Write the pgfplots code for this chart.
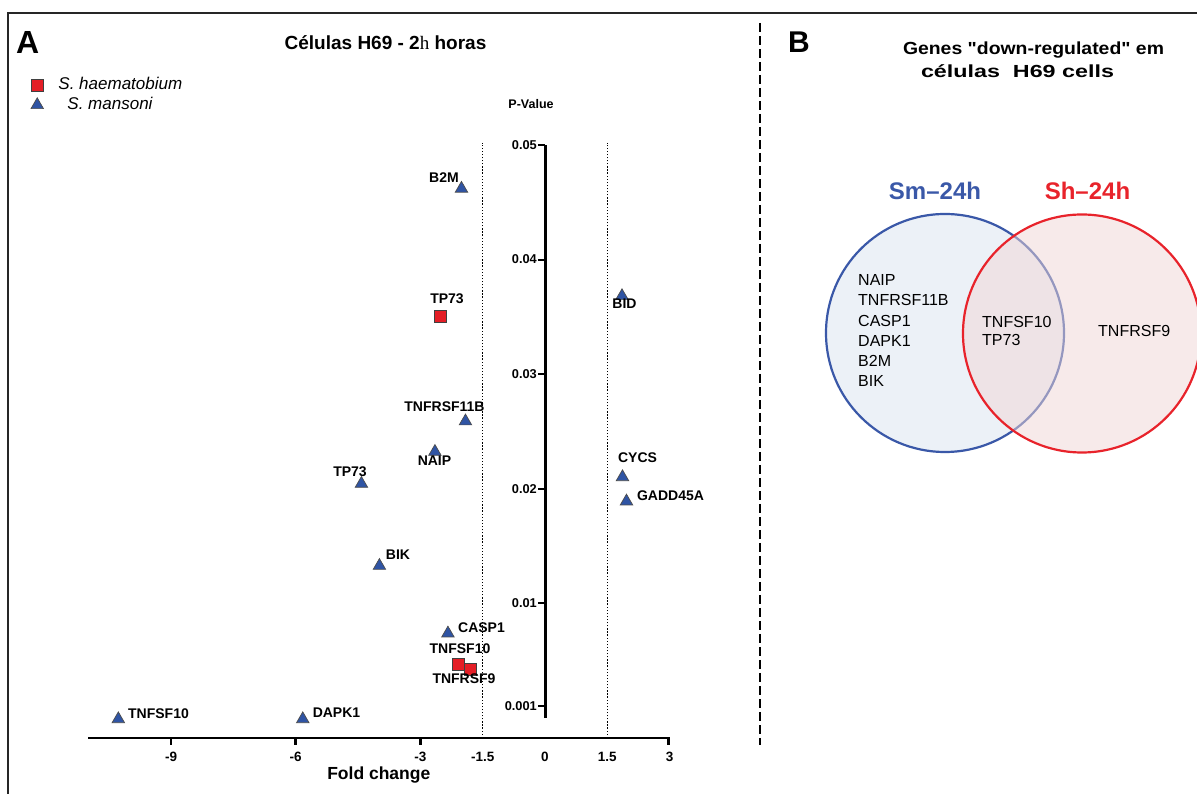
\documentclass[border=0pt]{standalone}
\usepackage{fontspec}
\setmainfont{Liberation Sans}
\newfontfamily\serifh{Liberation Serif}
\newfontfamily\rawsans{Liberation Sans}[Ligatures=TeXOff]
\usepackage{graphicx}
\usepackage{pgfplots}
\pgfplotsset{compat=1.18}
\definecolor{triblue}{RGB}{47,84,164}
\definecolor{sqred}{RGB}{228,30,38}
\definecolor{vblue}{RGB}{58,88,168}
\definecolor{vred}{RGB}{232,35,43}
\definecolor{vbluefill}{RGB}{236,241,247}
\definecolor{vredfill}{RGB}{240,214,214}
\newcommand{\fs}[1]{\fontsize{#1}{#1}\selectfont}
\begin{document}
\begin{tikzpicture}[x=1pt,y=1pt]
\useasboundingbox (0,0) rectangle (1197,793);
% frame and separator
\draw[line width=1.6pt, black!85] (8,-5) -- (8,780) -- (1200,780);
\draw[line width=2.2pt, dash pattern=on 9pt off 4pt] (760,770) -- (760,48);

\begin{axis}[
  at={(88pt,55pt)}, anchor=south west, scale only axis,
  width=581.6pt, height=618pt,
  xmin=-11, xmax=3, ymin=-0.00175, ymax=0.05218,
  axis x line=bottom, axis y line=none,
  axis line style={-, line width=2.5pt},
  every outer x axis line/.append style={-},
  scaled x ticks=false, scaled y ticks=false,
  xtick={-9,-6,-3,-1.5,0,1.5,3}, xticklabels={-9,-6,-3,-1.5,0,1.5,3},
  major tick length=0pt,
  xticklabel style={font=\bfseries\fs{13.5}, inner sep=0pt, yshift=-14pt},
  xlabel={Fold change},
  xlabel style={font=\bfseries\fs{17.5}, at={(axis description cs:0.5,-0.06)}, anchor=center},
  clip=false,
  legend style={at={(axis description cs:-0.098,1.0728)}, anchor=north west,
    draw=none, fill=none, inner sep=0pt, outer sep=0pt,
    font=\itshape\fs{17},
    nodes={inner sep=1pt, text height=13pt, text depth=5pt},
    /tikz/every odd column/.append style={column sep=14pt}},
  legend cell align=left,
]
% tick marks below the x axis
\addplot[forget plot, black, line width=2.5pt] coordinates {(-9,-0.00175) (-9,-0.00236)};
\addplot[forget plot, black, line width=2.5pt] coordinates {(-6,-0.00175) (-6,-0.00236)};
\addplot[forget plot, black, line width=2.5pt] coordinates {(-3,-0.00175) (-3,-0.00236)};
\addplot[forget plot, black, line width=2.5pt] coordinates {(2.97,-0.00175) (2.97,-0.00236)};
% dotted threshold lines
\addplot[forget plot, black, line width=1.4pt, dash pattern=on 1.3pt off 1.8pt]
  coordinates {(-1.5,-0.00175) (-1.5,0.0502)};
\addplot[forget plot, black, line width=1.4pt, dash pattern=on 1.3pt off 1.8pt]
  coordinates {(1.5,-0.00175) (1.5,0.0502)};
% S. haematobium
\addplot[only marks, mark=square*, mark size=6pt,
  mark options={fill=sqred, draw=black!75, line width=0.8pt}]
  coordinates {
  (-2.528,0.03503)
  (-2.095,0.00470)
  (-1.806,0.00422)
  };
\addlegendentry{S. haematobium}
% S. mansoni
\addplot[only marks, mark=triangle*, mark size=7.2pt,
  mark options={fill=triblue, draw=black!70, line width=0.7pt}]
  coordinates {
  (-2.01,0.04619)
  (1.854,0.03682)
  (-1.914,0.02589)
  (-2.649,0.02323)
  (-4.418,0.02044)
  (1.866,0.02102)
  (1.962,0.01890)
  (-3.985,0.01328)
  (-2.336,0.00738)
  (-10.27,-0.0001)
  (-5.83,-0.0001)
  };
\addlegendentry{\hspace{9pt}S. mansoni}
\end{axis}

% P-value axis
\begin{axis}[
  at={(545pt,75.1pt)}, anchor=south west, scale only axis,
  width=10pt, height=572.9pt,
  xmin=0, xmax=1, ymin=0, ymax=0.05,
  axis y line=left, axis x line=none,
  axis line style={-, line width=3pt},
  every outer y axis line/.append style={-},
  scaled y ticks=false,
  ytick={0.001,0.01,0.02,0.03,0.04,0.05},
  yticklabels={0.001,0.01,0.02,0.03,0.04,0.05},
  tick align=outside, major tick length=7pt,
  major tick style={line width=2pt, black},
  yticklabel style={font=\bfseries\fs{12.8}, inner sep=0pt, xshift=-1pt},
  clip=false,
]
\addplot[draw=none, forget plot] coordinates {(0,0.01)};
\end{axis}

% point labels
\begin{scope}[every node/.style={inner sep=0pt, font=\bfseries\fs{14}}]
\node at (444,615) {B2M};
\node at (447,494) {TP73};
\node at (624.5,489) {BID};
\node at (444.5,386) {TNFRSF11B};
\node at (434.5,332) {NAIP};
\node at (350,321.5) {TP73};
\node at (637.5,335) {CYCS};
\node at (670.5,297.5) {GADD45A};
\node at (398,238.5) {BIK};
\node at (481.5,165.5) {CASP1};
\node at (460,144.5) {TNFSF10};
\node at (464,114) {TNFRSF9};
\node at (336.5,80.5) {DAPK1};
\node at (158.5,79) {TNFSF10};
\end{scope}

% titles
\node[inner sep=0pt, anchor=base west] at (16,739) {\bfseries\fs{32}A};
\node[inner sep=0pt, anchor=base] at (385.5,743) {\bfseries\fs{19}Células H69 - 2{\serifh\mdseries h} horas};
\node[inner sep=0pt] at (531,689) {\bfseries\fs{12.5}P-Value};
\node[inner sep=0pt, anchor=base west] at (788,740) {\bfseries\fs{30}B};
\node[inner sep=0pt, anchor=base] at (1033.5,738) {\rawsans\bfseries\fs{17.5}\resizebox{261pt}{\height}{Genes "down-regulated" em}};
\node[inner sep=0pt, anchor=base] at (1017.5,715) {\bfseries\fs{17.5}\resizebox{193pt}{\height}{células\ \ H69 cells}};

% Venn diagram
\fill[vbluefill] (945,460) circle (119);
\draw[vblue, line width=2.2pt] (945,460) circle (119);
\fill[vredfill, opacity=0.5] (1082,459.5) circle (119);
\draw[vred, line width=2.2pt] (1082,459.5) circle (119);
\node[inner sep=0pt, anchor=base, text=vblue] at (935,593) {\bfseries\fs{24}Sm–24h};
\node[inner sep=0pt, anchor=base, text=vred] at (1087.5,593) {\bfseries\fs{24}Sh–24h};
\begin{scope}[every node/.style={inner sep=0pt, anchor=base west, font=\fs{16}}]
\node at (858,507) {NAIP};
\node at (858,487) {TNFRSF11B};
\node at (858,466.5) {CASP1};
\node at (858,446.4) {DAPK1};
\node at (858,426.2) {B2M};
\node at (858,406) {BIK};
\node at (982,465.3) {TNFSF10};
\node at (982,447.3) {TP73};
\node at (1098,456.3) {TNFRSF9};
\end{scope}
\end{tikzpicture}
\end{document}
